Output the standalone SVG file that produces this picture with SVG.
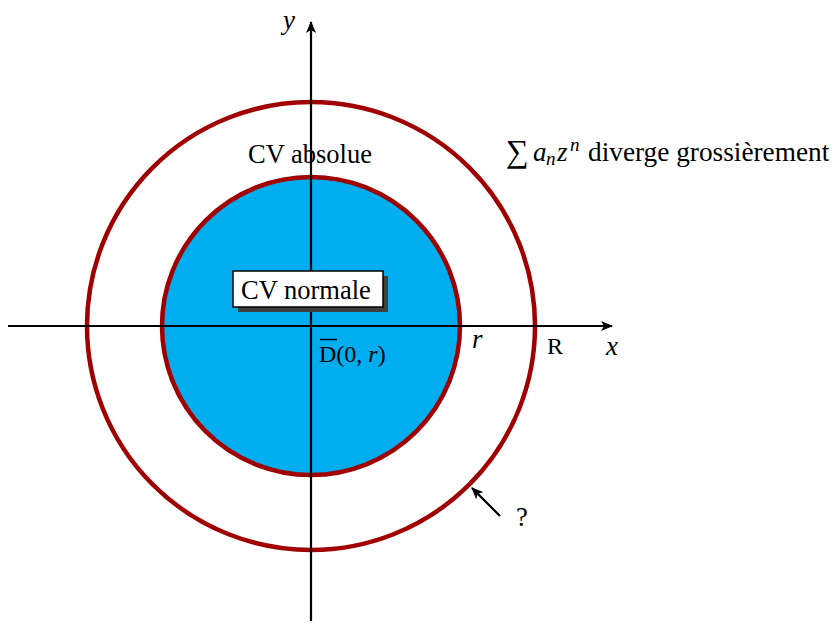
<svg xmlns="http://www.w3.org/2000/svg" width="833" height="623" viewBox="0 0 833 623">
<style>
.t{font-family:"Liberation Serif","Times New Roman",serif;fill:#000}
.big{font-size:26.5px}
.sm{font-size:24px}
.it{font-style:italic}
.ml{font-size:27px;font-style:italic}
.circ{stroke:#a00000;stroke-width:4.5}
.ax{stroke:#000;stroke-width:2.2;fill:none}
</style>
<defs>
<marker id="ah" viewBox="0 0 12 10" refX="11" refY="5" markerWidth="12" markerHeight="10" markerUnits="userSpaceOnUse" orient="auto">
<path d="M0,0 L12,5 L0,10 L3,5 Z" fill="#000"/>
</marker>
</defs>
<g id="outer"><circle cx="311" cy="326" r="224" fill="none" class="circ"/></g>
<g id="inner"><circle cx="311" cy="326" r="149" fill="#00aeef" class="circ"/></g>
<g id="labels">
<text class="t big" x="248" y="163">CV absolue</text>
<text class="t" font-size="32" x="506" y="162">∑</text>
<text class="t it" font-size="27" x="533" y="161">a</text>
<text class="t it" font-size="19" x="546" y="165">n</text>
<text class="t it" font-size="27" x="557" y="161">z</text>
<text class="t it" font-size="19" x="570" y="151">n</text>
<text class="t" font-size="27.3" x="588" y="161">diverge grossièrement</text>
<text class="t ml" x="472" y="348">r</text>
<text class="t sm" x="547" y="354">R</text>
<text class="t ml" x="606" y="355">x</text>
<text class="t ml" x="283" y="29">y</text>
<text class="t sm" x="319" y="362">D(0, <tspan class="it">r</tspan>)</text>
<line x1="320" y1="339.5" x2="337" y2="339.5" stroke="#000" stroke-width="1.5"/>
<text class="t big" x="516" y="526">?</text>
</g>
<g id="connectors">
<line class="ax" x1="8" y1="326" x2="612" y2="326" marker-end="url(#ah)"/>
<line class="ax" x1="311" y1="621" x2="311" y2="22" marker-end="url(#ah)"/>
<line class="ax" x1="500" y1="516" x2="472" y2="488" marker-end="url(#ah)"/>
</g>
<g id="normale">
<rect x="238" y="276" width="150" height="36" fill="#404040"/>
<rect x="233" y="271" width="150" height="36" fill="#fff" stroke="#000" stroke-width="1.5"/>
<text class="t big" x="241" y="299">CV normale</text>
</g>
</svg>
